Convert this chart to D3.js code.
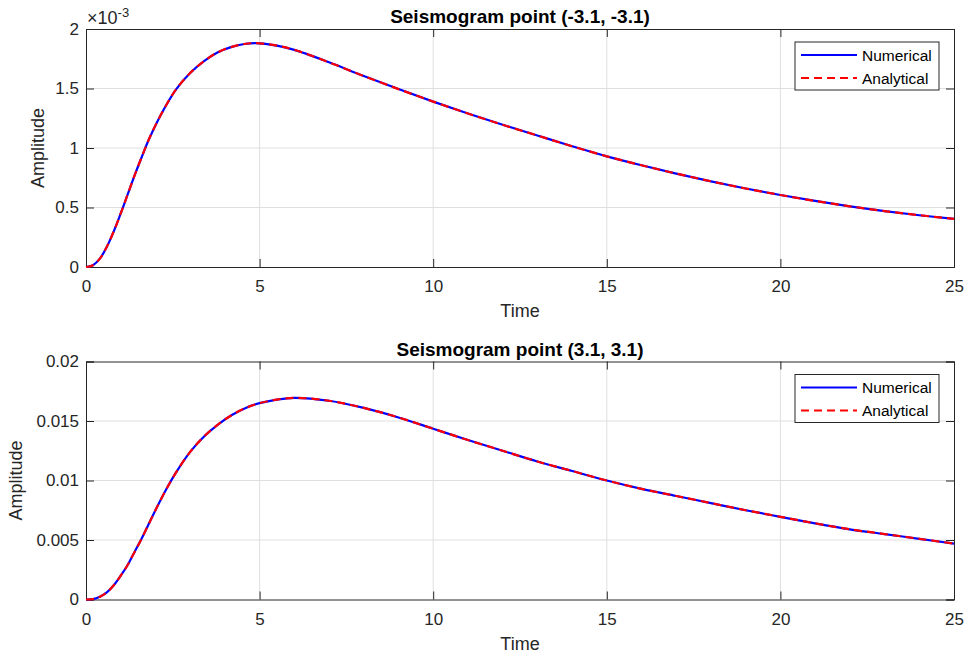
<!DOCTYPE html>
<html>
<head>
<meta charset="utf-8">
<script src="https://cdn.jsdelivr.net/npm/d3@7"></script>
<style>
  body { margin: 0; background: #fff; }
  text { font-family: "Liberation Sans", Arial, Helvetica, sans-serif; fill: #262626; }
</style>
</head>
<body>
<div id="chart"></div>
<script>
'use strict';

// time samples (same for both seismograms)
var time = [0, 0.2, 0.4, 0.6, 0.8, 1.0, 1.2, 1.4, 1.6, 1.8, 2.0, 2.3, 2.6, 3.0, 3.4, 3.8,
    4.2, 4.6, 5.0, 5.5, 6.0, 7, 8, 9, 10, 11, 12, 13, 14, 15, 16, 17, 18, 19, 20,
    21, 22, 23, 24, 25];

// point (-3.1, -3.1)
var ampTop = [0, 0.000015, 0.00007, 0.00017, 0.0003, 0.00045, 0.00061, 0.00077, 0.00092,
    0.001065, 0.00119, 0.001355, 0.001495, 0.00163, 0.00173, 0.001805, 0.00185, 0.001876,
    0.00188, 0.00186, 0.001825, 0.00172, 0.001605, 0.001495, 0.00139, 0.00129, 0.001195,
    0.001105, 0.001015, 0.00093, 0.000855, 0.000785, 0.00072, 0.00066, 0.000605, 0.000555,
    0.00051, 0.00047, 0.000435, 0.000405];

// point (3.1, 3.1)
var ampBottom = [0, 0.00003, 0.00024, 0.0006, 0.0012, 0.002, 0.0029, 0.004, 0.0051, 0.0063,
    0.0075, 0.0092, 0.0107, 0.0124, 0.0137, 0.0147, 0.0155, 0.0161, 0.0165, 0.0168, 0.01695,
    0.0167, 0.0161, 0.0153, 0.01435, 0.0134, 0.0125, 0.0116, 0.0108, 0.01, 0.0093, 0.0087,
    0.0081, 0.0075, 0.00695, 0.0064, 0.0059, 0.0055, 0.0051, 0.0047];

var xTicks = [0, 5, 10, 15, 20, 25];
var yTicksTop = [0, 0.0005, 0.001, 0.0015, 0.002];
var yTicksBottom = [0, 0.005, 0.01, 0.015, 0.02];
var legendLabels = ["Numerical", "Analytical"];

var W = 969, H = 658;
var svg = d3.select("#chart").append("svg")
    .attr("width", W).attr("height", H);
svg.append("rect").attr("width", W).attr("height", H).attr("fill", "#fff");

var x = d3.scaleLinear().domain([0, 25]).range([86, 954]);

function panel(opts) {
    var y = d3.scaleLinear().domain([0, opts.ymax]).range([opts.bottom, opts.top]);
    var g = svg.append("g");

    // grid
    g.selectAll(".gx").data(xTicks.slice(1, -1)).enter().append("line")
        .attr("x1", function(d) { return x(d) }).attr("x2", function(d) { return x(d) })
        .attr("y1", opts.top).attr("y2", opts.bottom)
        .attr("stroke", "#dfdfdf").attr("stroke-width", 1);
    g.selectAll(".gy").data(opts.yTicks.slice(1, -1)).enter().append("line")
        .attr("x1", 86).attr("x2", 954)
        .attr("y1", function(d) { return y(d) }).attr("y2", function(d) { return y(d) })
        .attr("stroke", "#dfdfdf").attr("stroke-width", 1);

    // axes with inward ticks on all four sides
    var tk = 8;
    g.append("g").attr("transform", "translate(0," + opts.bottom + ")")
        .call(d3.axisBottom(x).tickValues(xTicks).tickSize(-tk).tickPadding(13).tickFormat(d3.format("d")));
    g.append("g").attr("transform", "translate(0," + opts.top + ")")
        .call(d3.axisTop(x).tickValues(xTicks).tickSize(-tk).tickFormat(""));
    g.append("g").attr("transform", "translate(86,0)")
        .call(d3.axisLeft(y).tickValues(opts.yTicks).tickSize(-tk).tickPadding(7).tickFormat(opts.fmt));
    g.append("g").attr("transform", "translate(954,0)")
        .call(d3.axisRight(y).tickValues(opts.yTicks).tickSize(-tk).tickFormat(""));
    g.selectAll(".domain").attr("stroke", "#262626");
    g.selectAll(".tick line").attr("stroke", "#262626");
    g.selectAll(".tick text").attr("font-size", 17).style("fill", "#262626")
        .attr("font-family", "Liberation Sans, Arial, sans-serif");

    // curves
    var line = d3.line()
        .x(function(d, i) { return x(time[i]) })
        .y(function(d) { return y(d) })
        .curve(d3.curveCatmullRom.alpha(0.5));
    g.append("path").datum(opts.data).attr("d", line)
        .attr("fill", "none").attr("stroke", "#0000ff").attr("stroke-width", 2.2);
    g.append("path").datum(opts.data).attr("d", line)
        .attr("fill", "none").attr("stroke", "#ff0000").attr("stroke-width", 2.2)
        .attr("stroke-dasharray", "8,5");

    // title and labels
    g.append("text").attr("x", 520).attr("y", opts.top - 6)
        .attr("text-anchor", "middle").attr("font-size", 19).attr("font-weight", "bold")
        .style("fill", "#000").text(opts.title);
    g.append("text").attr("x", 520).attr("y", opts.bottom + 50)
        .attr("text-anchor", "middle").attr("font-size", 18).text("Time");
    g.append("text")
        .attr("transform", "translate(" + opts.ylabX + "," + ((opts.top + opts.bottom) / 2) + ") rotate(-90)")
        .attr("text-anchor", "middle").attr("font-size", 18).text("Amplitude");

    // legend
    var lg = g.append("g").attr("transform", "translate(795," + (opts.top + 13) + ")");
    lg.append("rect").attr("width", 144).attr("height", 48)
        .attr("fill", "#fff").attr("stroke", "#262626").attr("stroke-width", 1);
    lg.selectAll(".li").data(legendLabels).enter().append("line")
        .attr("x1", 6).attr("x2", 62)
        .attr("y1", function(d, i) { return 13 + i * 23 }).attr("y2", function(d, i) { return 13 + i * 23 })
        .attr("stroke", function(d, i) { return i === 0 ? "#0000ff" : "#ff0000" })
        .attr("stroke-width", 2.2)
        .attr("stroke-dasharray", function(d, i) { return i === 0 ? null : "8,5" });
    lg.selectAll(".lt").data(legendLabels).enter().append("text")
        .attr("x", 67).attr("y", function(d, i) { return 18.5 + i * 23 })
        .attr("font-size", 15.5).style("fill", "#000").text(function(d) { return d });
    return g;
}

var topPanel = panel({
    top: 29, bottom: 267, ymax: 0.002, yTicks: yTicksTop, data: ampTop,
    fmt: function(d) { return d3.format("~g")(Math.round(d * 1e4) / 10) },
    title: "Seismogram point (-3.1, -3.1)", ylabX: 44
});
var ex = topPanel.append("text").attr("x", 87).attr("y", 24).style("font-size", "18px");
ex.append("tspan").text("\u00d710");
ex.append("tspan").attr("dy", -7).style("font-size", "13px").text("-3");

panel({
    top: 361.5, bottom: 599.5, ymax: 0.02, yTicks: yTicksBottom, data: ampBottom,
    fmt: function(d) { return d3.format("~g")(Math.round(d * 1e3) / 1e3) },
    title: "Seismogram point (3.1, 3.1)", ylabX: 22
});
</script>
</body>
</html>
